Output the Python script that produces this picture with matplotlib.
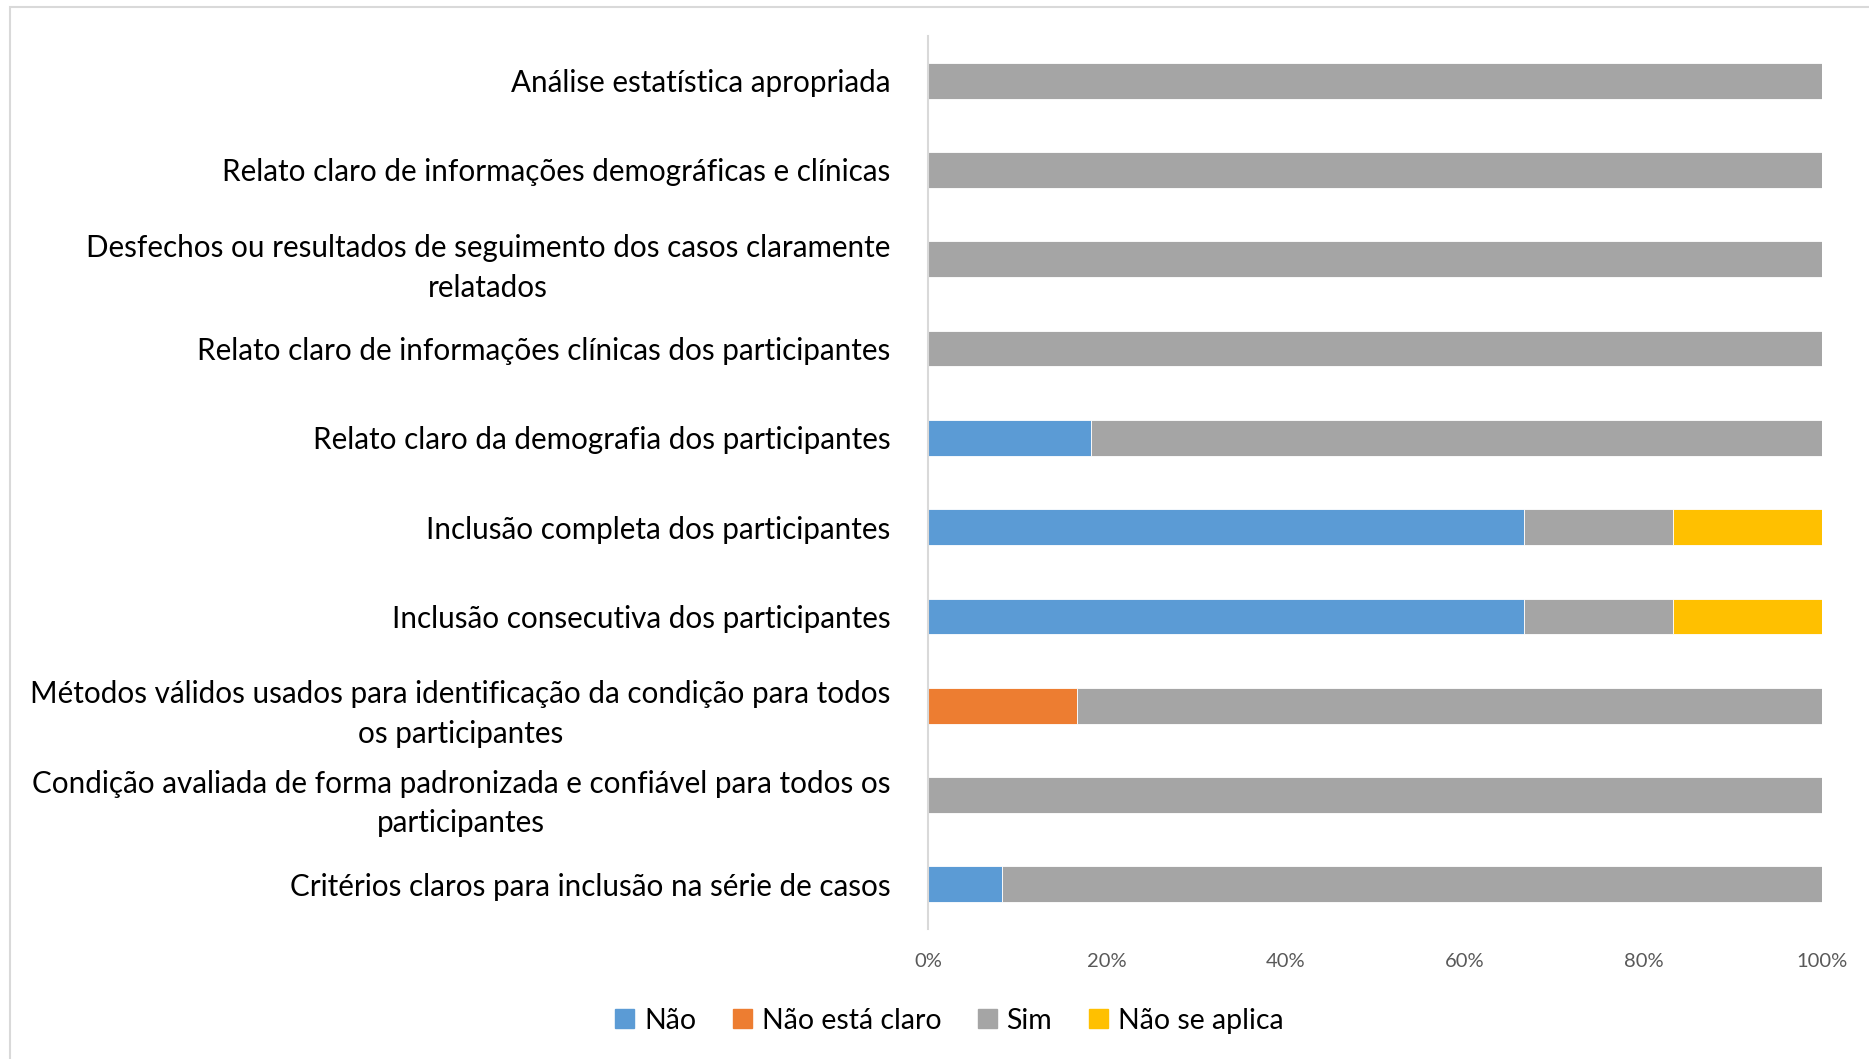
import numpy as np
import matplotlib.pyplot as plt
import matplotlib.patches as mpatches
from matplotlib.ticker import PercentFormatter

plt.rcParams['font.family'] = ['Lato', 'DejaVu Sans']

# categories, bottom to top
categories = [
    'Critérios claros para inclusão na série de casos',
    'Condição avaliada de forma padronizada e confiável para todos os\nparticipantes',
    'Métodos válidos usados para identificação da condição para todos\nos participantes',
    'Inclusão consecutiva dos participantes',
    'Inclusão completa dos participantes',
    'Relato claro da demografia dos participantes',
    'Relato claro de informações clínicas dos participantes',
    'Desfechos ou resultados de seguimento dos casos claramente\nrelatados',
    'Relato claro de informações demográficas e clínicas',
    'Análise estatística apropriada',
]

# percentages per series
nao = [8.33, 0, 0, 66.67, 66.67, 18.2, 0, 0, 0, 0]
nao_claro = [0, 0, 16.67, 0, 0, 0, 0, 0, 0, 0]
sim = [91.67, 100, 83.33, 16.67, 16.67, 81.8, 100, 100, 100, 100]
nao_aplica = [0, 0, 0, 16.67, 16.67, 0, 0, 0, 0, 0]

series_names = ['Não', 'Não está claro', 'Sim', 'Não se aplica']
series_colors = ['#5B9BD5', '#ED7D31', '#A5A5A5', '#FFC000']

fig = plt.figure(figsize=(18.69, 10.59), dpi=100)
ax = fig.add_axes([0.4965, 0.1228, 0.4785, 0.8432])

# light frame around the chart
fig.patches.append(mpatches.Rectangle((0.0053, -0.01), 1.2, 1.0034, transform=fig.transFigure,
                                      fill=False, edgecolor='#D9D9D9', linewidth=1.5))

y = np.arange(len(categories))
left = np.zeros(len(categories))
for vals, name, col in zip([nao, nao_claro, sim, nao_aplica], series_names, series_colors):
    vals = np.array(vals)
    ax.barh(y, vals, left=left, height=0.4, color=col, label=name,
            edgecolor='white', linewidth=0.6)
    left += vals

ax.set_xlim(0, 100)
ax.set_ylim(-0.5, len(categories) - 0.5)
ax.set_yticks(y)
ax.set_yticklabels(categories, fontsize=21.3, color='black', linespacing=1.52)
for lbl in ax.get_yticklabels():
    lbl.set_multialignment('center')
ax.set_xticks(np.arange(0, 101, 20))
ax.xaxis.set_major_formatter(PercentFormatter(decimals=0))
ax.tick_params(axis='x', length=0, pad=17, labelsize=14.5, labelcolor='#595959')
ax.tick_params(axis='y', length=0, pad=27)

for s in ['top', 'right', 'bottom']:
    ax.spines[s].set_visible(False)
ax.spines['left'].set_color('#D9D9D9')
ax.spines['left'].set_linewidth(1.5)

handles = [mpatches.Patch(color=c, label=n) for n, c in zip(series_names, series_colors)]
fig.legend(handles=handles, loc='center', bbox_to_anchor=(0.508, 0.036), ncol=4, frameon=False,
           fontsize=20.5, handlelength=0.65, handleheight=0.65, handletextpad=0.35, columnspacing=1.3)

fig.savefig('out.png', dpi=100)
